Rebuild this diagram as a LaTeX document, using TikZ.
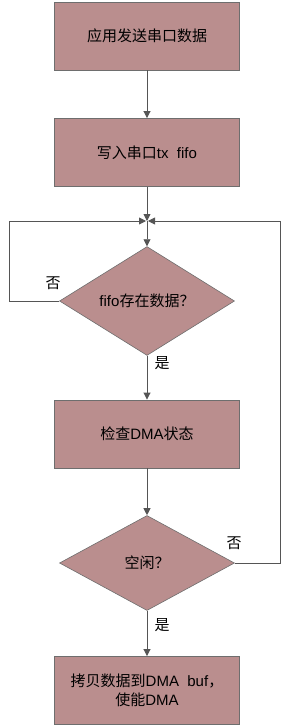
\documentclass[tikz,border=0pt]{standalone}
\usepackage{fontspec}
\setmainfont{Liberation Sans}
\newfontfamily\cjk{Noto Sans CJK SC}
\usetikzlibrary{arrows.meta,shapes.geometric,calc}
\definecolor{boxfill}{RGB}{186,142,142}
\definecolor{boxline}{RGB}{110,110,110}
\definecolor{conn}{RGB}{85,85,85}
\tikzset{
  x=1pt,y=-1pt,
  stepbox/.style={draw=boxline,fill=boxfill,line width=0.9pt,minimum width=185pt,minimum height=68pt,inner sep=0pt,font=\fontsize{15}{19}\selectfont,align=center},
  decide/.style={draw=boxline,fill=boxfill,line width=0.6pt,diamond,minimum width=175pt,minimum height=95pt,inner sep=0pt,font=\fontsize{15}{19}\selectfont},
  conn/.style={draw=conn,line width=0.9pt,-{Triangle[length=7pt,width=7pt]}},
  lbl/.style={font=\cjk\fontsize{15}{17}\selectfont,inner sep=0pt}
}
\begin{document}
\begin{tikzpicture}
\useasboundingbox (0,0) rectangle (290,725);
\node[stepbox] (b1) at (147,36) {{\cjk 应用发送串口数据}};
\node[stepbox] (b2) at (147,152.5) {{\cjk 写入串口}tx\ \ fifo};
\coordinate (m) at (147,221);
\node[decide] (d1) at (147,301) {fifo{\cjk 存在数据？}};
\node[stepbox] (b3) at (147,434) {{\cjk 检查}DMA{\cjk 状态}};
\node[decide] (d2) at (147,563) {{\cjk 空闲？}};
\node[stepbox] (b4) at (147,690.5) {{\cjk 拷贝数据到}DMA\ \ buf{\cjk ，}\\{\cjk 使能}DMA};
\coordinate (ll) at (9,221);
\coordinate (rr) at (280,221);
\draw[conn] (b1) -- (b2);
\draw[conn] (b2) -- (m);
\draw[conn] (m) -- (d1.north);
\draw[conn] (d1.west) -| (ll) -- ($(m)+(-1,0)$);
\draw[conn] (d2.east) -| (rr) -- ($(m)+(1,0)$);
\draw[conn] (d1.south) -- (b3);
\draw[conn] (b3) -- (d2.north);
\draw[conn] (d2.south) -- (b4);
\node[lbl] (n1) at (53,283) {否};
\node[lbl] (y1) at (162,363) {是};
\node[lbl] (n2) at (234,543) {否};
\node[lbl] (y2) at (162,625) {是};
\end{tikzpicture}
\end{document}
